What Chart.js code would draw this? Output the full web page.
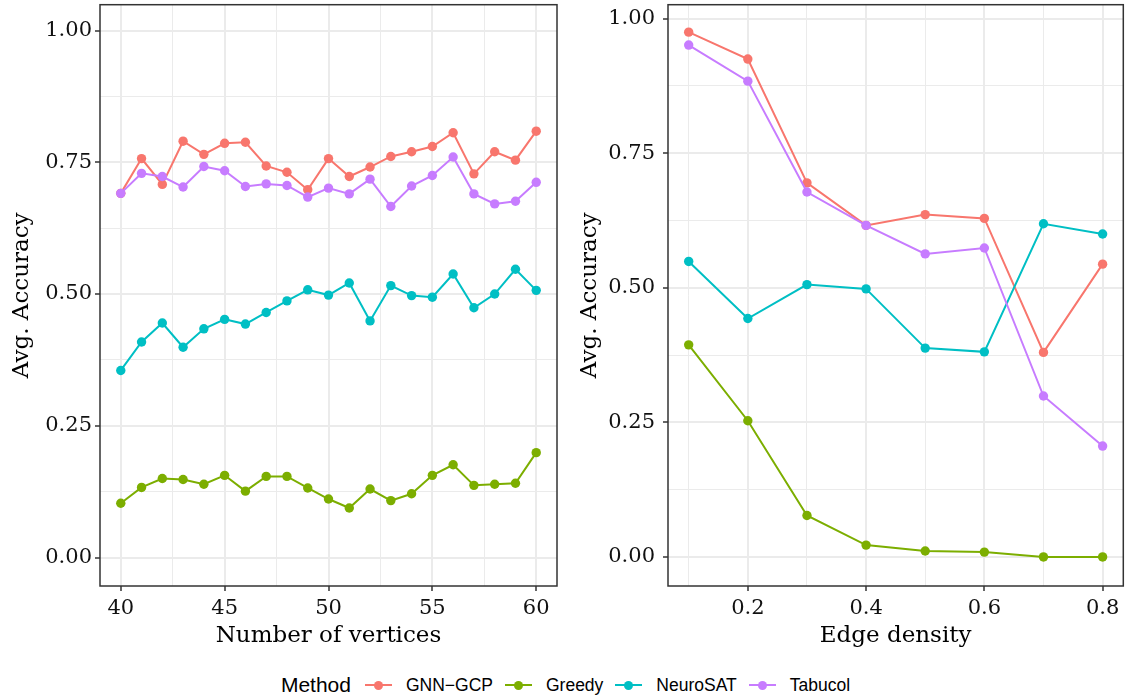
<!DOCTYPE html>
<html lang="en">
<head>
  <meta charset="UTF-8" />
  <title>Avg. Accuracy by method</title>
  <script src="https://cdn.jsdelivr.net/npm/chart.js"></script>
  <style>
    body { margin: 0; background: #fff; width: 1128px; height: 695px; position: relative; overflow: hidden; }
    #leftChart { position: absolute; left: 0; top: 0; }
    #rightChart { position: absolute; left: 564px; top: 0; }
    .legend {
      position: absolute; left: 0; top: 671px; width: 1143px; height: 28px;
      display: flex; align-items: center; justify-content: center;
      font-family: "Liberation Sans", Arial, sans-serif; color: #000;
    }
    .legend .title { font-size: 21px; margin-right: 14px; }
    .legend .label { font-size: 17.5px; margin-right: 12px; }
    .legend .key {
      display: inline-block; position: relative; width: 27px; height: 2px;
      margin-right: 14px;
    }
    .legend .key::after {
      content: ''; position: absolute; left: 9px; top: -3.5px;
      width: 9px; height: 9px; border-radius: 50%; background: inherit;
    }
  </style>
</head>
<body>
  <canvas id="leftChart" width="564" height="650"></canvas>
  <canvas id="rightChart" width="564" height="650"></canvas>
  <div class="legend" id="legend"><span class="title">Method</span></div>

  <script>
    // --- data ---
    const methods = ['GNN\u2212GCP', 'Greedy', 'NeuroSAT', 'Tabucol'];
    const colors = ['#F8766D', '#7CAE00', '#00BFC4', '#C77CFF'];

    // left panel: accuracy vs number of vertices
    const vertices = [40, 41, 42, 43, 44, 45, 46, 47, 48, 49, 50, 51, 52, 53, 54, 55, 56, 57, 58, 59, 60];
    const gnnByVertices = [0.691, 0.757, 0.708, 0.790, 0.765, 0.786, 0.788, 0.743, 0.731, 0.698, 0.757,
                           0.723, 0.741, 0.761, 0.770, 0.780, 0.806, 0.728, 0.770, 0.754, 0.809];
    const greedyByVertices = [0.103, 0.133, 0.150, 0.148, 0.139, 0.156, 0.126, 0.154, 0.154, 0.132, 0.111,
                              0.094, 0.130, 0.108, 0.121, 0.156, 0.176, 0.137, 0.139, 0.141, 0.199];
    const neuroByVertices = [0.355, 0.409, 0.445, 0.399, 0.434, 0.452, 0.443, 0.465, 0.487, 0.508, 0.498,
                             0.521, 0.449, 0.516, 0.497, 0.494, 0.538, 0.474, 0.500, 0.547, 0.507];
    const tabuByVertices = [0.691, 0.729, 0.723, 0.703, 0.742, 0.734, 0.704, 0.709, 0.706, 0.684, 0.701,
                            0.690, 0.718, 0.666, 0.705, 0.725, 0.760, 0.690, 0.671, 0.676, 0.712];

    // right panel: accuracy vs edge density
    const density = [0.1, 0.2, 0.3, 0.4, 0.5, 0.6, 0.7, 0.8];
    const gnnByDensity = [0.975, 0.925, 0.695, 0.616, 0.636, 0.629, 0.380, 0.544];
    const greedyByDensity = [0.394, 0.253, 0.077, 0.022, 0.011, 0.009, 0.000, 0.000];
    const neuroByDensity = [0.549, 0.443, 0.506, 0.498, 0.388, 0.381, 0.619, 0.600];
    const tabuByDensity = [0.951, 0.884, 0.678, 0.616, 0.563, 0.574, 0.299, 0.206];

    // ticks (major = labelled, minor = grid only)
    const yMajor = [0, 0.25, 0.5, 0.75, 1];
    const yGrid = [0, 0.125, 0.25, 0.375, 0.5, 0.625, 0.75, 0.875, 1];
    const verticesMajor = [40, 45, 50, 55, 60];
    const verticesGrid = [40, 42.5, 45, 47.5, 50, 52.5, 55, 57.5, 60];
    const densityMajor = [0.2, 0.4, 0.6, 0.8];
    const densityGrid = [0.1, 0.2, 0.3, 0.4, 0.5, 0.6, 0.7, 0.8];

    const serif = '"DejaVu Serif", "Liberation Serif", serif';
    const isMajor = (list, v) => list.some(m => Math.abs(m - v) < 1e-9);

    // panel border like ggplot theme_bw
    const framePlugin = {
      id: 'frame',
      afterDraw(chart) {
        const { ctx, chartArea: a } = chart;
        ctx.save();
        ctx.strokeStyle = '#333333';
        ctx.lineWidth = 1.5;
        ctx.strokeRect(a.left, a.top, a.right - a.left, a.bottom - a.top);
        ctx.restore();
      }
    };

    function axis(opts) {
      return {
        type: 'linear',
        min: opts.min,
        max: opts.max,
        bounds: 'data',
        border: { display: false },
        afterBuildTicks: s => { s.ticks = opts.grid.map(v => ({ value: v })); },
        afterFit: s => {
          if (opts.width) s.width = opts.width;
          if (opts.height) s.height = opts.height;
          s.paddingTop = 0; s.paddingBottom = 0; s.paddingLeft = 0; s.paddingRight = 0;
        },
        grid: {
          color: '#EBEBEB',
          lineWidth: c => isMajor(opts.major, c.tick.value) ? 2 : 1,
          tickColor: c => isMajor(opts.major, c.tick.value) ? '#333333' : 'rgba(0,0,0,0)',
          tickWidth: 1.5,
          tickLength: 5
        },
        ticks: {
          autoSkip: false,
          maxRotation: 0,
          padding: opts.pad,
          color: '#111',
          font: { family: serif, size: 21 },
          callback: v => isMajor(opts.major, v) ? opts.fmt(v) : ''
        },
        title: {
          display: true,
          text: opts.title,
          color: '#000',
          font: { family: serif, size: 23 },
          padding: opts.titlePad
        }
      };
    }

    function datasets(xs, series) {
      return series.map((ys, i) => ({
        label: methods[i],
        data: xs.map((x, j) => ({ x: x, y: ys[j] })),
        borderColor: colors[i],
        backgroundColor: colors[i],
        borderWidth: 2,
        pointRadius: 4.7,
        pointBorderWidth: 0,
        pointHoverRadius: 4.7,
        tension: 0,
        order: series.length - i
      }));
    }

    new Chart(document.getElementById('leftChart'), {
      type: 'line',
      data: { datasets: datasets(vertices, [gnnByVertices, greedyByVertices, neuroByVertices, tabuByVertices]) },
      options: {
        responsive: false,
        animation: false,
        layout: { padding: { top: 4, right: 7, bottom: 0, left: 0 } },
        plugins: { legend: { display: false }, tooltip: { enabled: false } },
        scales: {
          x: axis({ min: 39, max: 61, grid: verticesGrid, major: verticesMajor, fmt: v => String(v),
                    title: 'Number of vertices', height: 64, pad: 5, titlePad: { top: 0, bottom: 0 } }),
          y: axis({ min: -0.054, max: 1.049, grid: yGrid, major: yMajor, fmt: v => v.toFixed(2),
                    title: 'Avg. Accuracy', width: 100, pad: 3, titlePad: { top: 8, bottom: 0 } })
        }
      },
      plugins: [framePlugin]
    });

    new Chart(document.getElementById('rightChart'), {
      type: 'line',
      data: { datasets: datasets(density, [gnnByDensity, greedyByDensity, neuroByDensity, tabuByDensity]) },
      options: {
        responsive: false,
        animation: false,
        layout: { padding: { top: 3, right: 3, bottom: 0, left: 0 } },
        plugins: { legend: { display: false }, tooltip: { enabled: false } },
        scales: {
          x: axis({ min: 0.065, max: 0.835, grid: densityGrid, major: densityMajor, fmt: v => v.toFixed(1),
                    title: 'Edge density', height: 64, pad: 5, titlePad: { top: 0, bottom: 0 } }),
          y: axis({ min: -0.054, max: 1.026, grid: yGrid, major: yMajor, fmt: v => v.toFixed(2),
                    title: 'Avg. Accuracy', width: 104, pad: 8, titlePad: { top: 12, bottom: 0 } })
        }
      },
      plugins: [framePlugin]
    });

    // legend below both panels
    const legend = document.getElementById('legend');
    methods.forEach((m, i) => {
      const key = document.createElement('span');
      key.className = 'key';
      key.style.background = colors[i];
      const label = document.createElement('span');
      label.className = 'label';
      label.textContent = m;
      legend.appendChild(key);
      legend.appendChild(label);
    });
  </script>
</body>
</html>
